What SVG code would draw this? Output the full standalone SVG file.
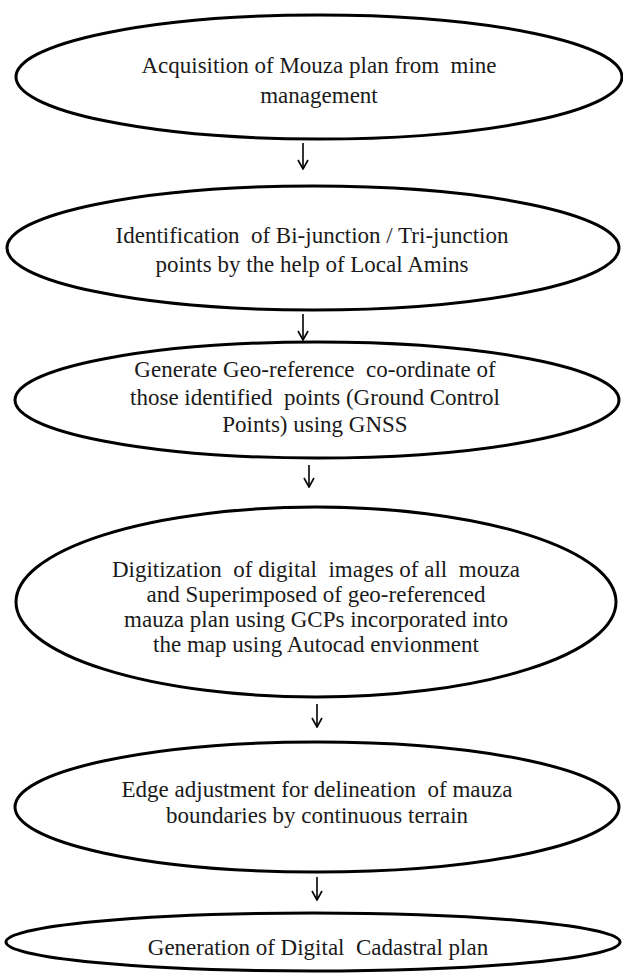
<svg xmlns="http://www.w3.org/2000/svg" width="623" height="973" viewBox="0 0 623 973">
<style>
.node{fill:#fff;stroke:#000;stroke-width:3}
.t{font-family:"Liberation Serif","Times New Roman",serif;font-size:23px;fill:#1a1a1a;text-anchor:middle;white-space:pre}
.c{stroke:#000;stroke-width:1.6;fill:none}
</style>
<defs>
<marker id="ah" viewBox="0 0 12 12" refX="11" refY="6" markerWidth="12" markerHeight="12" markerUnits="userSpaceOnUse" orient="auto">
<path d="M2,1 L11,6 L2,11" fill="none" stroke="#000" stroke-width="1.6"/>
</marker>
</defs>
<rect width="623" height="973" fill="#fff"/>
<g id="connectors">
<line class="c" x1="303" y1="143" x2="303" y2="169" marker-end="url(#ah)"/>
<line class="c" x1="303" y1="314" x2="303" y2="340" marker-end="url(#ah)"/>
<line class="c" x1="309" y1="465" x2="309" y2="487" marker-end="url(#ah)"/>
<line class="c" x1="317" y1="704" x2="317" y2="727" marker-end="url(#ah)"/>
<line class="c" x1="317" y1="877" x2="317" y2="900" marker-end="url(#ah)"/>
</g>
<g id="n1">
<ellipse class="node" cx="319" cy="77" rx="303" ry="62"/>
<text class="t" x="319" y="73">Acquisition of Mouza plan from  mine</text>
<text class="t" x="319" y="103">management</text>
</g>
<g id="n2">
<ellipse class="node" cx="313" cy="248" rx="306" ry="62"/>
<text class="t" x="312" y="243">Identification  of Bi-junction / Tri-junction</text>
<text class="t" x="312" y="272">points by the help of Local Amins</text>
</g>
<g id="n3">
<ellipse class="node" cx="317" cy="400" rx="302" ry="58"/>
<text class="t" x="315" y="377">Generate Geo-reference  co-ordinate of</text>
<text class="t" x="315" y="405">those identified  points (Ground Control</text>
<text class="t" x="315" y="432">Points) using GNSS</text>
</g>
<g id="n4">
<ellipse class="node" cx="316" cy="602" rx="300" ry="95"/>
<text class="t" x="316" y="577">Digitization  of digital  images of all  mouza</text>
<text class="t" x="316" y="602">and Superimposed of geo-referenced</text>
<text class="t" x="316" y="627">mauza plan using GCPs incorporated into</text>
<text class="t" x="316" y="652">the map using Autocad envionment</text>
</g>
<g id="n5">
<ellipse class="node" cx="317" cy="807" rx="302" ry="65"/>
<text class="t" x="317" y="797">Edge adjustment for delineation  of mauza</text>
<text class="t" x="317" y="823">boundaries by continuous terrain</text>
</g>
<g id="n6">
<ellipse class="node" cx="313" cy="942" rx="307" ry="29"/>
<text class="t" x="318" y="955">Generation of Digital  Cadastral plan</text>
</g>
</svg>
